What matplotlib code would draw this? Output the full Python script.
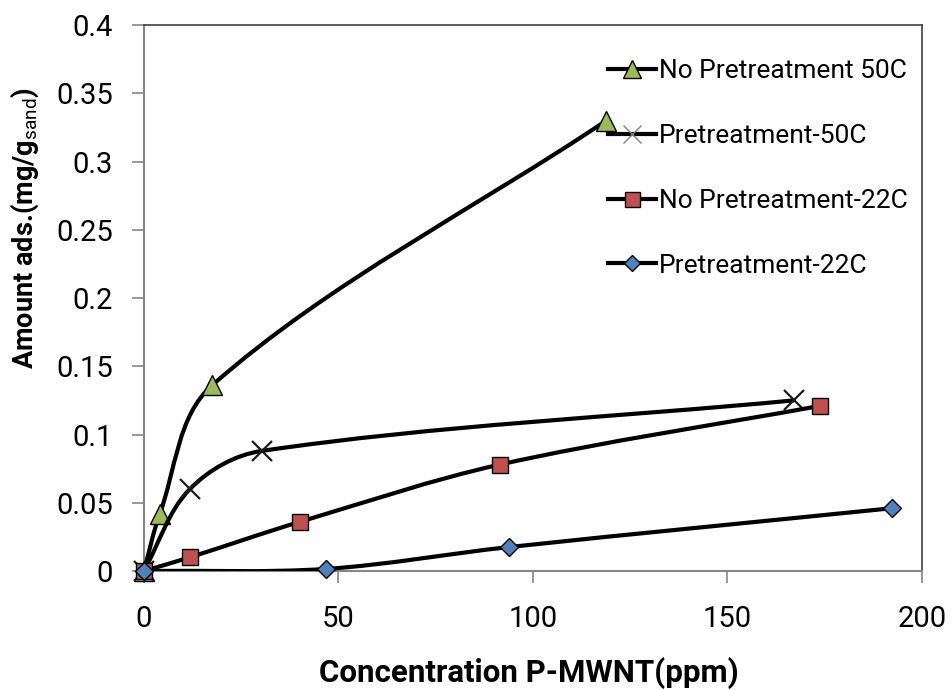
from matplotlib import pyplot as plt
from matplotlib.path import Path
from matplotlib.patches import PathPatch
from matplotlib.lines import Line2D
import numpy as np

plt.rcParams['font.family'] = ['Roboto', 'DejaVu Sans']
plt.rcParams['mathtext.fontset'] = 'custom'
plt.rcParams['mathtext.rm'] = 'Roboto'
plt.rcParams['mathtext.bf'] = 'Roboto:bold'

# Data
labels = ['No Pretreatment 50C', 'Pretreatment-50C',
          'No Pretreatment-22C', 'Pretreatment-22C']
x_np50 = [0, 4.1, 17.5, 118.8]
y_np50 = [0, 0.042, 0.136, 0.330]
x_p50 = [0, 11.8, 30.3, 167.0]
y_p50 = [0, 0.060, 0.088, 0.125]
x_np22 = [0, 11.8, 40.1, 91.5, 173.8]
y_np22 = [0, 0.010, 0.036, 0.078, 0.121]
x_p22 = [0, 46.8, 93.8, 192.3]
y_p22 = [0, 0.0015, 0.0175, 0.046]

xticks = [0, 50, 100, 150, 200]
yticks = [0, 0.05, 0.1, 0.15, 0.2, 0.25, 0.3, 0.35, 0.4]
ytick_labels = ['0', '0.05', '0.1', '0.15', '0.2', '0.25', '0.3', '0.35', '0.4']

fig = plt.figure(figsize=(9.53, 6.90), dpi=100)
ax = fig.add_axes([0.151, 0.1725, 0.8165, 0.791])
ax.set_xlim(0, 200)
ax.set_ylim(0, 0.4)


def smooth_path(xs, ys):
    # smoothed line through the points, tangents worked out in screen space
    p = ax.transData.transform(np.column_stack([xs, ys]))
    n = len(p)
    tang = []
    for i in range(n):
        a = p[i - 1] if i > 0 else p[i]
        b = p[i + 1] if i < n - 1 else p[i]
        d = b - a
        tang.append(d / np.hypot(*d))
    verts = [p[0]]
    codes = [Path.MOVETO]
    for i in range(n - 1):
        L = np.hypot(*(p[i + 1] - p[i])) / 3.0
        verts += [p[i] + tang[i] * L, p[i + 1] - tang[i + 1] * L, p[i + 1]]
        codes += [Path.CURVE4] * 3
    verts = ax.transData.inverted().transform(np.array(verts))
    return Path(verts, codes)


series = [
    (x_np50, y_np50, '^', '#9BBB59', 'black', 14, 1.0),
    (x_p50, y_p50, 'x', 'none', '#1a1a1a', 15, 1.6),
    (x_np22, y_np22, 's', '#C0504D', 'black', 12, 1.0),
    (x_p22, y_p22, 'D', '#4F81BD', 'black', 9.5, 1.0),
]

handles = []
z = 3
for (xs, ys, m, fc, ec, ms, mew), lab in zip(series, labels):
    ax.add_patch(PathPatch(smooth_path(xs, ys), facecolor='none',
                           edgecolor='black', lw=3, zorder=z,
                           capstyle='round', joinstyle='round'))
    ax.plot(xs, ys, linestyle='none', marker=m, markersize=ms,
            markerfacecolor=fc, markeredgecolor=ec, markeredgewidth=mew,
            zorder=z + 0.5, clip_on=False)
    if m == 'x':
        ec = '#808080'
        mew = 1.0
    handles.append(Line2D([], [], color='black', lw=3, marker=m,
                          markersize=ms * 0.9, markerfacecolor=fc,
                          markeredgecolor=ec, markeredgewidth=mew))
    z += 1

ax.set_xticks(xticks)
ax.set_yticks(yticks)
ax.set_yticklabels(ytick_labels)
ax.tick_params(axis='both', direction='out', length=8.5, width=1.2,
               colors='#868686', labelcolor='black', labelsize=21)
ax.tick_params(axis='x', pad=16)
ax.tick_params(axis='y', pad=14)

for s in ['left', 'bottom']:
    ax.spines[s].set_color('#868686')
    ax.spines[s].set_linewidth(1.5)
for s in ['top', 'right']:
    ax.spines[s].set_color('#404040')
    ax.spines[s].set_linewidth(1.2)

ax.set_xlabel('Concentration P-MWNT(ppm)', fontsize=22.5, fontweight='bold')
ax.xaxis.set_label_coords(0.495, -0.187)
ax.xaxis.label.set_va('center')
ax.set_ylabel(r'Amount ads.(mg/g$_{\rm sand}$)', fontsize=19.5,
              fontweight='bold')
ax.yaxis.set_label_coords(-0.153, 0.628)
ax.yaxis.label.set_va('center')

leg = ax.legend(handles, labels, loc='upper left',
                bbox_to_anchor=(0.5965, 0.938), frameon=False, fontsize=19,
                handlelength=1.8, handletextpad=0.12, labelspacing=1.55,
                borderaxespad=0, borderpad=0)

plt.savefig('out.png', dpi=100)
